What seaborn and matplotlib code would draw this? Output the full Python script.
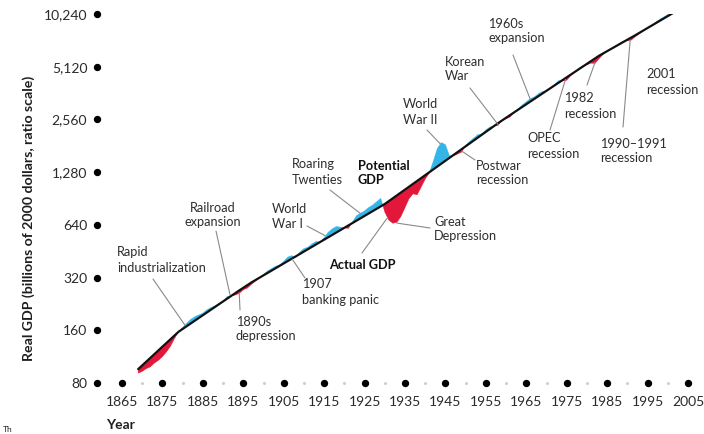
import matplotlib
matplotlib.use("Agg")
import matplotlib.pyplot as plt
import numpy as np
import pandas as pd
import seaborn as sns

# ---------------------------------------------------------------------------
# Real GDP, billions of 2000 dollars
# ---------------------------------------------------------------------------
years = list(range(1869, 2004))

potential_gdp = [
    96.0, 100.8, 105.9, 111.3, 116.9, 122.8, 129.0, 135.5, 142.3, 149.4,      # 1869-1878
    157.0, 162.8, 168.9, 175.1, 181.6, 188.3, 195.3, 202.6, 210.1, 217.9,     # 1879-1888
    225.9, 234.3, 243.0, 252.0, 261.0, 270.2, 279.8, 289.8, 300.0, 309.5,     # 1889-1898
    319.4, 329.5, 340.0, 350.8, 361.9, 373.4, 385.3, 397.5, 410.1, 423.1,     # 1899-1908
    436.6, 450.5, 464.8, 479.5, 494.7, 510.5, 526.7, 543.4, 560.6, 578.4,     # 1909-1918
    596.8, 615.8, 635.3, 655.5, 676.3, 697.8, 719.9, 742.8, 766.4, 790.7,     # 1919-1928
    815.8, 841.8, 874.4, 908.3, 943.4, 980.0, 1017.9, 1057.4, 1098.3, 1140.8,  # 1929-1938
    1185.0, 1230.9, 1279.3, 1328.7, 1379.9, 1433.2, 1488.5, 1545.9, 1605.6, 1667.5,  # 1939-1948
    1731.9, 1798.7, 1868.1, 1940.2, 2015.1, 2092.9, 2173.7, 2257.6, 2344.7, 2435.2,  # 1949-1958
    2526.1, 2617.3, 2711.7, 2809.6, 2911.0, 3016.0, 3124.8, 3237.6, 3354.4, 3475.5,  # 1959-1968
    3600.9, 3730.9, 3865.5, 4005.0, 4149.5, 4299.3, 4454.4, 4615.2, 4781.7, 4954.2,  # 1969-1978
    5133.0, 5318.2, 5510.1, 5709.0, 5915.0, 6094.8, 6280.1, 6471.0, 6667.7, 6870.4,  # 1979-1988
    7079.3, 7294.5, 7516.2, 7755.0, 8001.6, 8256.1, 8518.6, 8789.5, 9069.0, 9357.4,  # 1989-1998
    9655.0, 9962.0, 10278.8, 10605.7, 10942.9,                                 # 1999-2003
]

actual_gdp = [
    91.1, 93.2, 96.6, 98.9, 103.9, 107.7, 113.1, 120.4, 129.8, 143.7,         # 1869-1878
    157.0, 166.0, 175.7, 184.6, 191.4, 195.9, 200.5, 209.4, 215.7, 220.8,     # 1879-1888
    227.4, 234.3, 249.5, 252.0, 254.2, 259.7, 272.5, 278.6, 292.2, 305.4,     # 1889-1898
    319.4, 333.8, 349.1, 360.2, 371.6, 378.3, 395.6, 419.0, 426.6, 417.6,     # 1899-1908
    448.3, 468.6, 477.2, 498.8, 514.6, 510.5, 540.8, 580.4, 606.7, 626.0,     # 1909-1918
    620.8, 615.8, 610.7, 664.2, 722.3, 745.2, 768.9, 803.9, 829.4, 867.0,     # 1919-1928
    906.4, 757.7, 681.1, 653.8, 661.4, 714.7, 803.2, 903.0, 963.0, 948.9,     # 1929-1938
    1052.8, 1167.7, 1262.5, 1476.3, 1748.5, 1889.1, 1837.1, 1587.2, 1584.6, 1624.1,  # 1939-1948
    1664.9, 1822.4, 1918.0, 2005.0, 2096.1, 2120.5, 2231.7, 2317.9, 2344.7, 2371.9,  # 1949-1958
    2526.1, 2583.0, 2641.2, 2809.6, 2949.4, 3096.5, 3229.2, 3367.7, 3444.0, 3591.6,  # 1959-1968
    3697.0, 3730.9, 3865.5, 4057.9, 4260.3, 4243.0, 4282.0, 4554.7, 4781.7, 5019.6,  # 1969-1978
    5200.8, 5248.5, 5366.8, 5345.4, 5686.1, 6015.0, 6280.1, 6471.0, 6711.7, 6961.1,  # 1979-1988
    7172.7, 7199.0, 7273.4, 7603.8, 7896.8, 8256.1, 8518.6, 8789.5, 9188.7, 9543.6,  # 1989-1998
    9847.1, 10160.2, 10278.8, 10466.8, 10799.6,                                # 1999-2003
]

y_ticks = [80, 160, 320, 640, 1280, 2560, 5120, 10240]
y_tick_labels = ["80", "160", "320", "640", "1,280", "2,560", "5,120", "10,240"]
x_ticks = [1865, 1875, 1885, 1895, 1905, 1915, 1925, 1935, 1945, 1955, 1965, 1975, 1985, 1995, 2005]
x_half_ticks = [1870, 1880, 1890, 1900, 1910, 1920, 1930, 1940, 1950, 1960, 1970, 1980, 1990, 2000]

# Episodes: (label, text anchor px, alignment, bold, leader start px, leader tip (year, GDP))
episodes = [
    ("Rapid\nindustrialization", (117, 260), "left", False, (153, 279), (1880.5, 172)),
    ("Railroad\nexpansion", (213, 215), "center", False, (216, 231), (1891.7, 256)),
    ("1890s\ndepression", (236, 329), "left", False, (240, 310), (1894.0, 262)),
    ("World\nWar I", (272, 216), "left", False, (307, 226), (1915.2, 556)),
    ("1907\nbanking panic", (302, 292), "left", False, (305, 278), (1907.1, 408)),
    ("Roaring\nTwenties", (292, 172), "left", False, (330, 190), (1924.0, 742)),
    ("Potential\nGDP", (358, 173), "left", True, None, None),
    ("Actual GDP", (329, 265), "left", True, (362, 253), (1930.7, 705)),
    ("Great\nDepression", (434, 229), "left", False, (430, 228), (1933.0, 655)),
    ("World\nWar II", (403, 112), "left", False, (427, 130), (1943.7, 1860)),
    ("Postwar\nrecession", (476, 173), "left", False, (475, 160), (1949.0, 1690)),
    ("Korean\nWar", (445, 69), "left", False, (470, 88), (1958.1, 2380)),
    ("1960s\nexpansion", (488, 31), "left", False, (513, 55), (1966.0, 3330)),
    ("OPEC\nrecession", (527, 146), "left", False, (550, 130), (1974.7, 4330)),
    ("1982\nrecession", (564, 106), "left", False, (587, 85), (1982.0, 5420)),
    ("1990\u20131991\nrecession", (600, 151), "left", False, (623, 127), (1990.7, 7280)),
    ("2001\nrecession", (646, 82), "left", False, (662, 65), (2001.5, 10330)),
]

BLUE = "#34B5E8"
RED = "#E3173A"
LINE = "#111111"
TEXT = "#2e2e2e"
LEADER = "#8a8a8a"

sns.set_theme(style="white")
plt.rcParams["font.family"] = ["Lato", "DejaVu Sans"]

W, H = 704, 434
fig = plt.figure(figsize=(W / 100, H / 100), dpi=100)
ax = fig.add_axes([97 / W, 1 - 383 / H, (688 - 97) / W, (383 - 14) / H])


def fig_xy(px, py):
    return (px / W, 1 - py / H)


df = pd.DataFrame({"year": years, "potential": potential_gdp, "actual": actual_gdp})

above = df["actual"] >= df["potential"]
ax.fill_between(df["year"], df["potential"], df["actual"], where=above, interpolate=True,
                color=BLUE, linewidth=0.3, edgecolor=BLUE, zorder=2)
ax.fill_between(df["year"], df["potential"], df["actual"], where=~above, interpolate=True,
                color=RED, linewidth=0.3, edgecolor=RED, zorder=2)
sns.lineplot(data=df, x="year", y="potential", color=LINE, linewidth=1.6, ax=ax, zorder=3)

ax.set_yscale("log", base=2)
x0 = 1865 - 25 / 4.0427
ax.set_xlim(x0, 2005)
ax.set_ylim(80, 10240)
ax.set_xlabel("")
ax.set_ylabel("")
for s in ax.spines.values():
    s.set_visible(False)

ax.set_yticks(y_ticks)
ax.set_yticklabels(y_tick_labels)
ax.yaxis.set_minor_locator(matplotlib.ticker.NullLocator())
ax.set_xticks(x_ticks)
ax.set_xticklabels([str(t) for t in x_ticks])
ax.tick_params(axis="both", length=0, labelsize=10, labelcolor="#2a2a2a")
ax.tick_params(axis="y", pad=7)
ax.tick_params(axis="x", pad=9)

# Dot markers standing in for tick marks
ax.scatter([x0] * len(y_ticks), y_ticks, s=28, color="black", clip_on=False, zorder=5, linewidths=0)
ax.scatter(x_ticks, [80] * len(x_ticks), s=28, color="black", clip_on=False, zorder=5, linewidths=0)
ax.scatter(x_half_ticks, [80] * len(x_half_ticks), s=5, color="#cfcfcf", clip_on=False, zorder=5,
           linewidths=0)

for label, (tx, ty), align, bold, start, tip in episodes:
    fig.text(*fig_xy(tx, ty), label, ha=align, va="center", multialignment=align,
             fontsize=9.2, linespacing=1.3,
             color="#111111" if bold else TEXT,
             fontweight="bold" if bold else "normal")
    if start is not None:
        ax.annotate("", xy=tip, xycoords="data", xytext=fig_xy(*start),
                    textcoords="figure fraction",
                    arrowprops=dict(arrowstyle="-", color=LEADER, lw=0.8,
                                    shrinkA=0, shrinkB=0), zorder=4)

fig.text(*fig_xy(29, 218), "Real GDP (billions of 2000 dollars, ratio scale)",
         rotation=90, ha="center", va="center", fontsize=10.2, fontweight="bold", color="#1e1e1e")
fig.text(*fig_xy(106, 425), "Year", ha="left", va="center", fontsize=10,
         fontweight="bold", color="#1e1e1e")
fig.text(*fig_xy(3, 433), "Th", ha="left", va="bottom", fontsize=6, color="#222222")

fig.savefig("out.png", dpi=100)
